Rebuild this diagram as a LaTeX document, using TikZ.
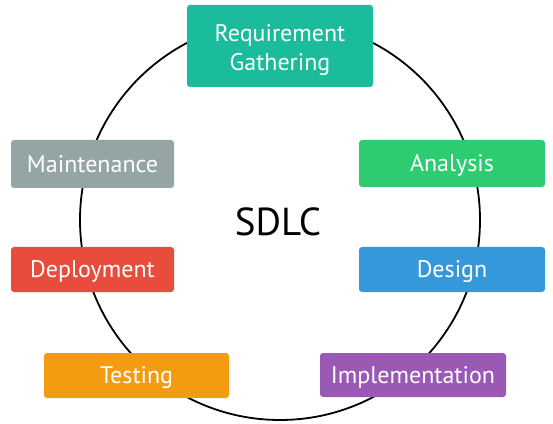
\documentclass[tikz,border=0pt]{standalone}
\usepackage{fontspec}
\setmainfont{PT Sans}
\definecolor{reqcol}{HTML}{1ABC9C}
\definecolor{anacol}{HTML}{2ECC71}
\definecolor{descol}{HTML}{3498DB}
\definecolor{impcol}{HTML}{9B59B6}
\definecolor{tstcol}{HTML}{F39C12}
\definecolor{depcol}{HTML}{E74C3C}
\definecolor{maicol}{HTML}{95A5A6}
\tikzset{
  phase/.style={rounded corners=3pt,text=white,align=center,
    font=\fontsize{24}{29}\selectfont,inner sep=0pt},
  oneline/.style={phase,text height=16.5pt,text depth=0pt},
}
\begin{document}
\begin{tikzpicture}[x=1pt,y=1pt]
	\useasboundingbox (0,0) rectangle (553,423);
	%Vong tron
	\draw[line width=1.8pt] (280,203) circle (200);
	%Tieu de
	\node[text height=27pt,text depth=0pt,inner sep=0pt] (sdlc) at (278,200.5) {\fontsize{39}{42}\selectfont SDLC};
	%Cac giai doan
	\node[phase,text height=49pt,text depth=0pt,fill=reqcol,minimum width=186,minimum height=82] (req) at (280,377) {Requirement\\Gathering};
	\node[oneline,fill=anacol,minimum width=186,minimum height=47] (ana) at (452,259.5) {Analysis};
	\node[oneline,fill=descol,minimum width=186,minimum height=45] (des) at (452,153.5) {Design};
	\node[oneline,fill=impcol,minimum width=186,minimum height=44] (imp) at (413,48) {Implementation};
	\node[oneline,fill=tstcol,minimum width=185,minimum height=45] (tst) at (136.5,47.5) {Testing};
	\node[oneline,fill=depcol,minimum width=163,minimum height=45] (dep) at (92.5,153.5) {Deployment};
	\node[oneline,fill=maicol,minimum width=163,minimum height=48] (mai) at (92.5,259) {Maintenance};
\end{tikzpicture}
\end{document}
